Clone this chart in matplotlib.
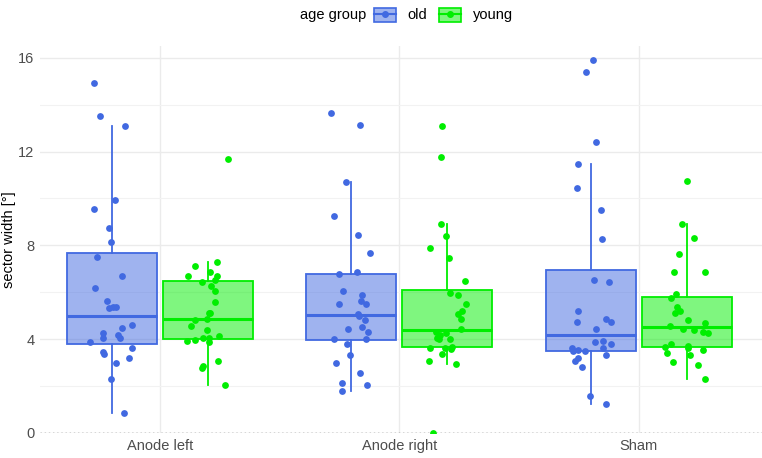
import matplotlib
matplotlib.use("Agg")
import matplotlib.pyplot as plt
from matplotlib.patches import Patch
from matplotlib.lines import Line2D
import numpy as np

plt.rcParams['font.family'] = ['Liberation Sans', 'DejaVu Sans']

# categories and groups
conditions = ["Anode left", "Anode right", "Sham"]
groups = ["old", "young"]

# sector width values
old_left = [14.93, 13.51, 13.08, 9.95, 9.57, 8.76, 8.13, 7.51, 6.70, 6.19, 5.63, 5.38, 5.32, 5.38,
            4.49, 4.62, 4.25, 4.18, 4.07, 4.07, 3.87, 3.63, 3.44, 3.38, 3.19, 3.00, 2.30, 0.87]
young_left = [11.69, 7.27, 7.10, 6.88, 6.71, 6.71, 6.53, 6.43, 6.27, 6.07, 5.57, 5.13, 5.13, 4.82,
              4.88, 4.55, 4.38, 4.07, 4.12, 4.07, 3.94, 3.87, 3.96, 3.07, 2.87, 2.76, 2.06]
old_right = [13.65, 13.14, 10.70, 9.26, 8.45, 7.69, 6.77, 6.88, 6.07, 5.89, 5.64, 5.52, 5.52, 5.08,
             4.99, 4.82, 4.45, 4.51, 4.32, 4.02, 4.02, 3.81, 3.31, 3.00, 2.56, 2.12, 2.06, 1.81]
young_right = [13.08, 11.76, 8.89, 8.38, 7.88, 7.44, 6.50, 5.96, 5.87, 5.50, 5.19, 5.08, 4.88, 4.45,
               4.31, 4.25, 4.19, 4.07, 4.00, 4.00, 3.68, 3.57, 3.63, 3.63, 3.37, 2.93, 3.07, 0.0]
old_sham = [15.90, 15.40, 12.39, 11.45, 10.45, 9.51, 8.26, 6.51, 6.44, 5.19, 4.88, 4.75, 4.75, 4.44,
            3.87, 3.81, 3.94, 3.63, 3.64, 3.48, 3.50, 3.55, 3.19, 3.31, 3.07, 2.82, 1.57, 1.25]
young_sham = [10.76, 8.89, 8.32, 7.64, 6.88, 6.88, 5.94, 5.75, 5.38, 5.19, 5.13, 4.83, 4.69, 4.56,
              4.44, 4.38, 4.31, 4.25, 3.81, 3.70, 3.55, 3.41, 3.33, 3.02, 2.89, 2.30, 3.62, 3.68]

data = {
    "old": [old_left, old_right, old_sham],
    "young": [young_left, young_right, young_sham],
}
colors = {"old": "#4169E1", "young": "#00EE00"}
offsets = {"old": -0.2, "young": 0.2}

fig = plt.figure(figsize=(7.62, 4.58), dpi=100)
ax = fig.add_axes([40 / 762, 25 / 458, 722 / 762, 387 / 458])

rng = np.random.default_rng(3)
for g in groups:
    c = colors[g]
    pos = [i + 1 + offsets[g] for i in range(len(conditions))]
    bp = ax.boxplot(data[g], positions=pos, widths=0.376, patch_artist=True,
                    showfliers=False, showcaps=False, whis=1.5, zorder=2)
    for box in bp["boxes"]:
        box.set_facecolor(matplotlib.colors.to_rgba(c, 0.5))
        box.set_edgecolor(c)
        box.set_linewidth(1.3)
    for w in bp["whiskers"]:
        w.set_color(c)
        w.set_linewidth(1.3)
    for m in bp["medians"]:
        m.set_color(c)
        m.set_linewidth(2.2)
    # jittered points
    for p, vals in zip(pos, data[g]):
        jit = rng.uniform(-0.09, 0.09, len(vals))
        ax.scatter(p + jit, vals, s=24, color=c, zorder=3, linewidths=0)

ax.axhline(0, color="#444444", linestyle=(0, (1, 2)), linewidth=1.0, zorder=1)

ax.set_xlim(0.5, 3.515)
ax.set_ylim(0, 16.5)
ax.set_xticks([1, 2, 3])
ax.set_xticklabels(conditions)
ax.set_yticks([0, 4, 8, 12, 16])
ax.set_yticks([2, 6, 10, 14], minor=True)
ax.grid(which="major", color="#EBEBEB", linewidth=1.0, zorder=0)
ax.grid(which="minor", axis="y", color="#F2F2F2", linewidth=0.8, zorder=0)
ax.set_axisbelow(True)
for s in ax.spines.values():
    s.set_visible(False)
ax.tick_params(which="both", length=0, labelsize=10.5, labelcolor="#4D4D4D", pad=4)
fig.text(9 / 762, 1 - 240 / 458, "sector width [°]", fontsize=10.5, rotation=90,
         ha="center", va="center")

# legend
handles = []
for g in groups:
    c = colors[g]
    handles.append((Patch(facecolor=matplotlib.colors.to_rgba(c, 0.5), edgecolor=c, linewidth=1.2),
                    Line2D([], [], color=c, marker="o", markersize=4, linewidth=1.5)))
fig.text(300 / 762, 1 - 15 / 458, "age group", fontsize=10.5, va="center", ha="left")
fig.legend(handles, groups, loc="center left", bbox_to_anchor=(374 / 762, 1 - 15 / 458),
           ncol=2, frameon=False, fontsize=10.5, handlelength=1.5, handleheight=1.1,
           handletextpad=0.8, columnspacing=0.8, borderaxespad=0, borderpad=0)

fig.savefig("out.png", dpi=100)
